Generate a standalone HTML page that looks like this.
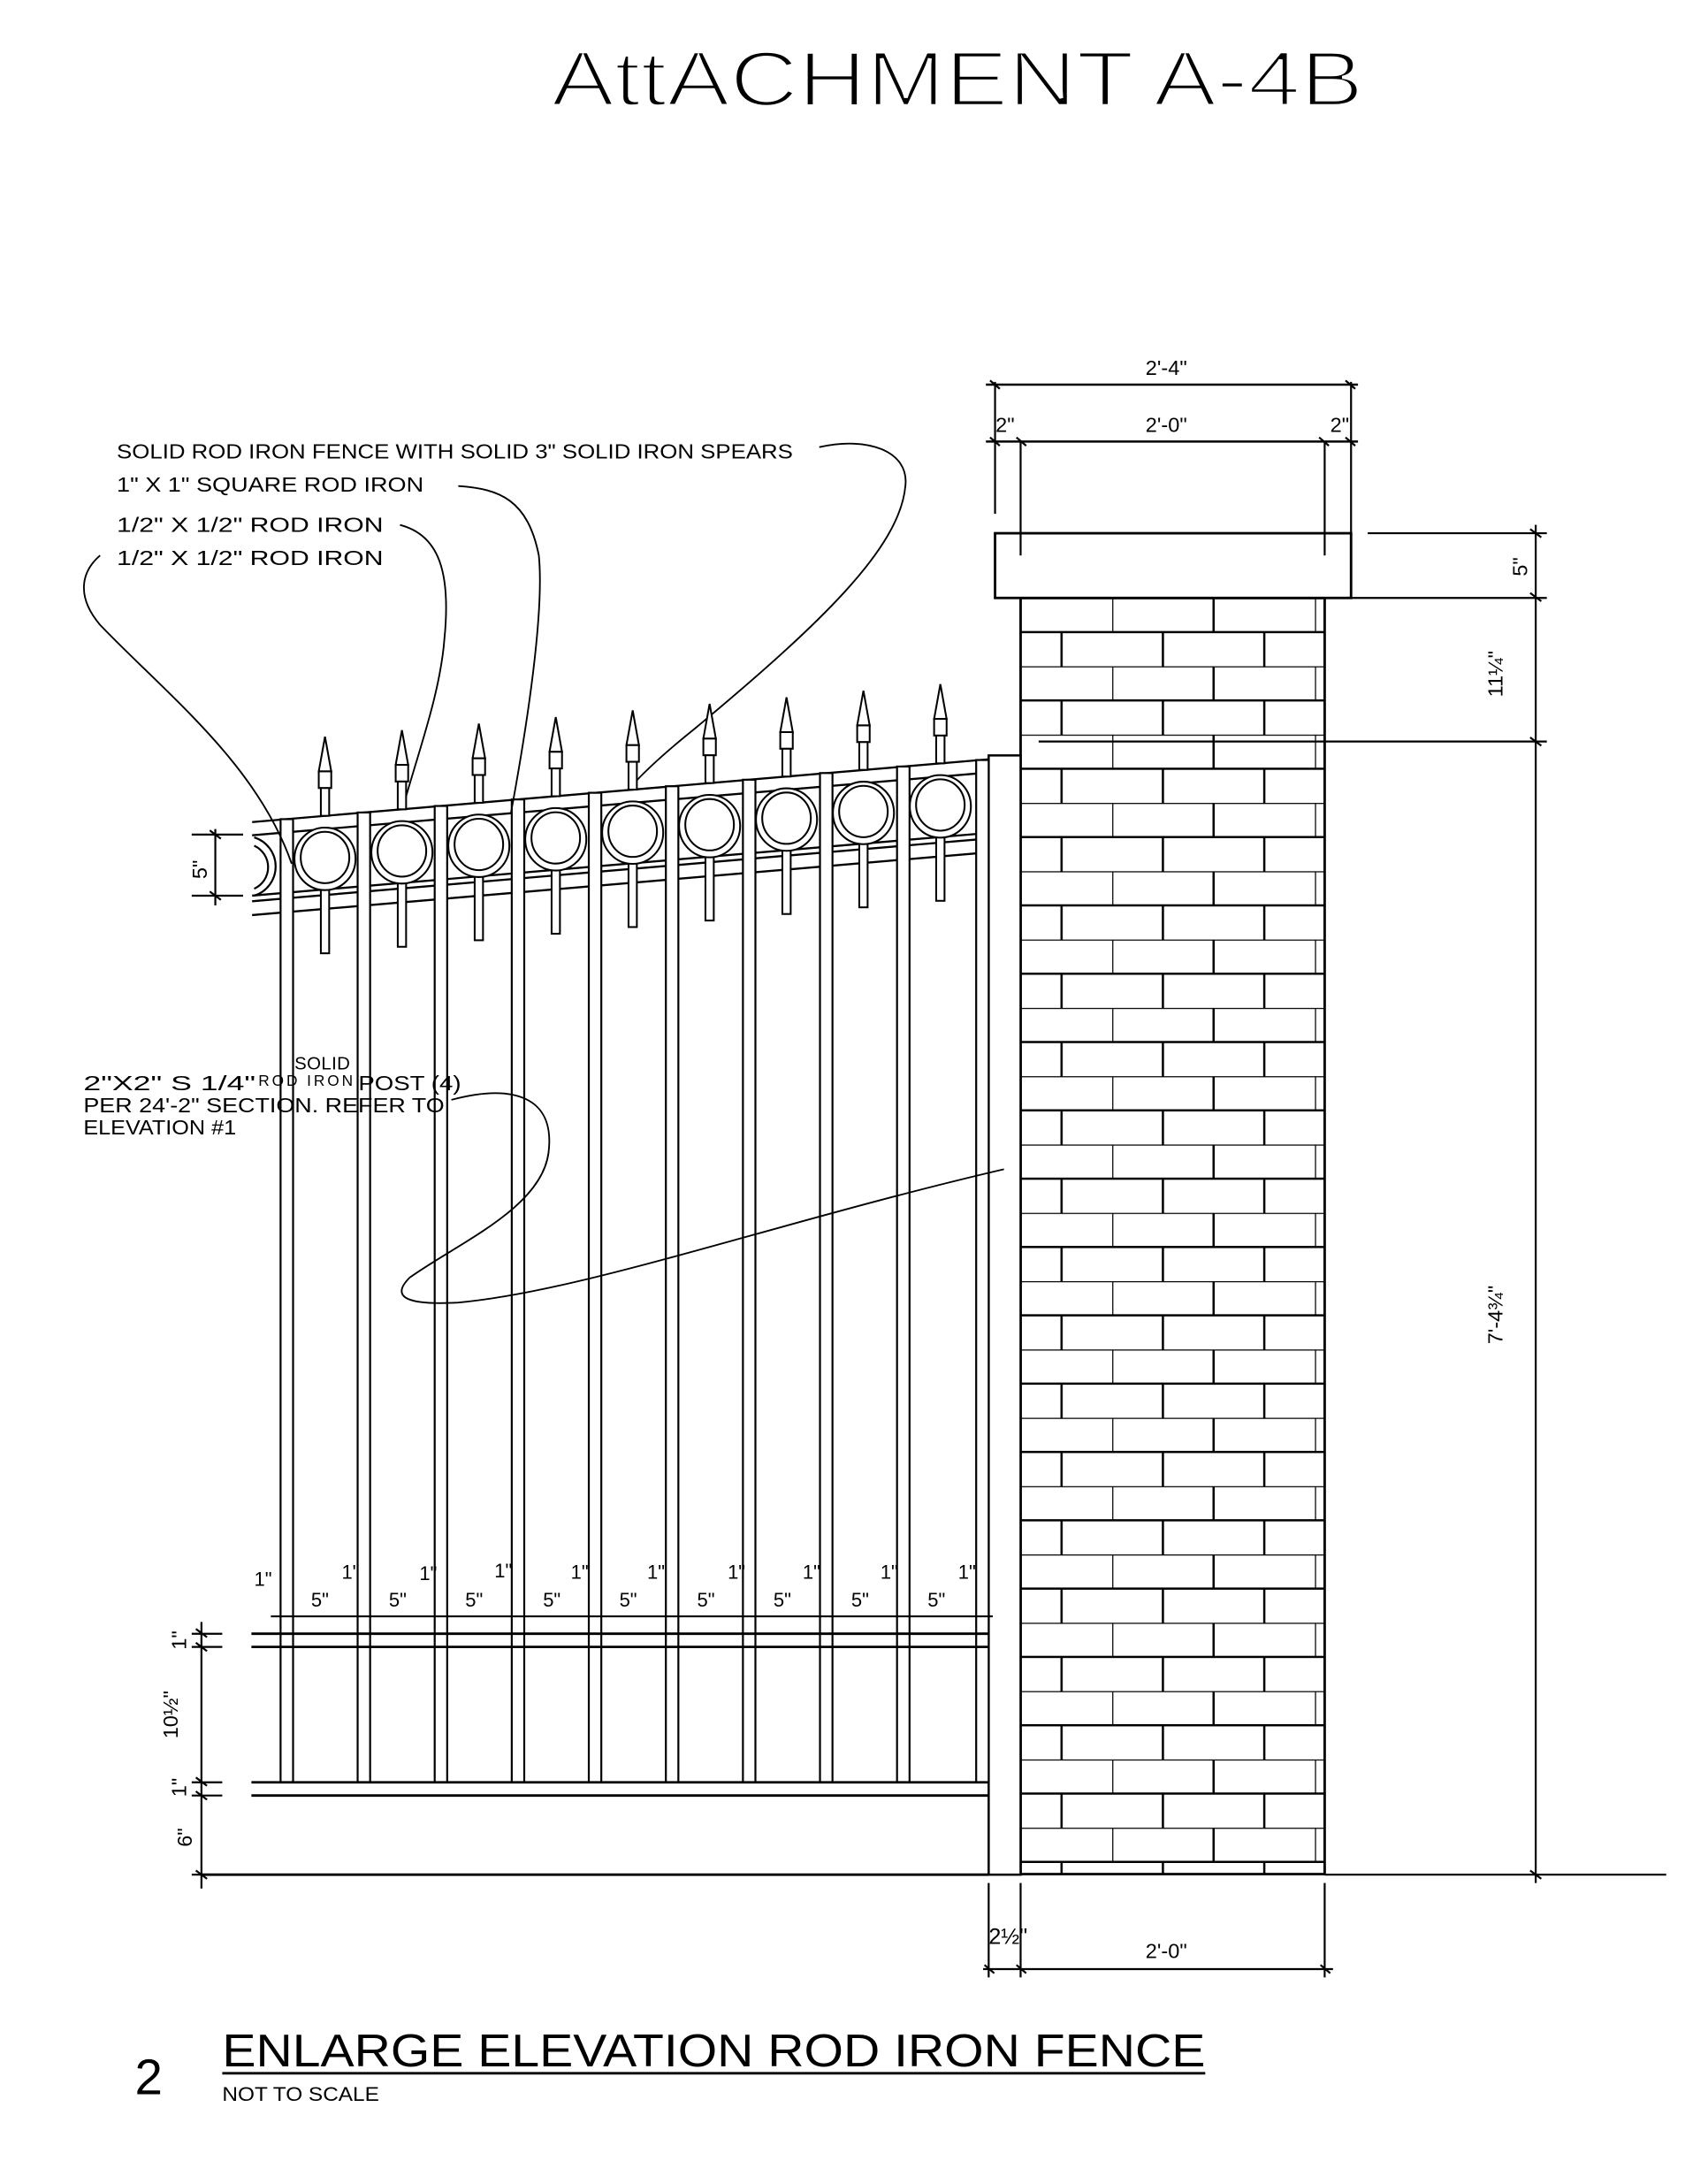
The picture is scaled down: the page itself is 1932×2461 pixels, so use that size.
<!DOCTYPE html>
<html><head><meta charset="utf-8"><style>html,body{margin:0;padding:0;background:#fff}svg{display:block}</style></head>
<body>
<svg width="1932" height="2461" viewBox="0 0 1230 1567" xmlns="http://www.w3.org/2000/svg" font-family="Liberation Sans, sans-serif">
<defs>
<pattern id="br" patternUnits="userSpaceOnUse" x="801" y="430.6" width="146" height="49.2">
<rect width="146" height="49.2" fill="#fff"/>
<path d="M0 0H146M0 24.6H146M0 0V24.6M73 0V24.6M36.5 24.6V49.2M109.5 24.6V49.2" stroke="#000" stroke-width="1.6"/>
</pattern>
<g id="u" stroke="#000" stroke-width="1.3" fill="#fff">
<polygon points="0,-57 4.5,-32 -4.5,-32"/>
<rect x="-4.5" y="-32" width="9" height="12"/>
<rect x="-3" y="-20" width="6" height="20"/>
<rect x="-3" y="50" width="6" height="49"/>
<ellipse cx="0" cy="31" rx="22" ry="22.5"/>
<ellipse cx="0" cy="30" rx="17.5" ry="18.5"/>
</g>
</defs>
<rect width="1230" height="1567" fill="#fff"/>
<text x="397" y="76" font-size="56" textLength="585" lengthAdjust="spacingAndGlyphs" fill="#000" stroke="#fff" stroke-width="2.2">AttACHMENT  A-4B</text>

<g stroke="#000" fill="none" stroke-width="1.4">
<rect x="735" y="430.6" width="219" height="919" fill="url(#br)" stroke-width="1.8"/>
<rect x="716.6" y="384" width="256.4" height="46.6" stroke-width="1.8" fill="#fff"/>
<path d="M735 318V400M954 318V400M716.6 275V370M973 275V384"/>
<path d="M710 277H978M710 318H978" stroke-width="1.6"/>
<path d="M713 274l7 6M969 274l7 6M713 315l7 6M732 315l7 6M950 315l7 6M969 315l7 6"/>
<path d="M985 384H1114M973 430.6H1114M748 534H1114M954 1350H1200M1106 378V1356"/>
<path d="M1102 381l8 6M1102 427l8 6M1102 531l8 6M1102 1347l8 6"/>
<rect x="712" y="544" width="23" height="806" fill="#fff" stroke-width="1.6"/>
<path d="M181.5 592L712 546.8M181.5 601.5L712 556.3M181.5 645L712 599.8M181.5 649L712 603.8M181.5 659L712 613.8" stroke-width="1.5"/>
<path d="M183 603A22 22 0 0 1 183 645M183 609A17 17 0 0 1 183 640"/>
<g fill="#fff" stroke-width="1.4">
<rect x="202" y="589.9" width="9" height="693.6"/>
<rect x="257.5" y="585.1" width="9" height="698.4"/>
<rect x="313" y="580.4" width="9" height="703.1"/>
<rect x="368.5" y="575.7" width="9" height="707.8"/>
<rect x="424" y="570.9" width="9" height="712.6"/>
<rect x="479.5" y="566.2" width="9" height="717.3"/>
<rect x="535" y="561.5" width="9" height="722"/>
<rect x="590.5" y="556.7" width="9" height="726.8"/>
<rect x="646" y="552" width="9" height="731.5"/>
<rect x="703" y="547.3" width="9" height="736.2"/>
</g>
<path d="M181 1176.5H712M181 1186H712M181 1283.5H712M181 1293H712M145 1350H712" stroke-width="1.8"/>
<path d="M195 1164H715" stroke-width="1.4"/>
<path d="M138 1176.5H160M138 1186H160M138 1283.5H160M138 1293H160M138 1350H160M145 1168V1360"/>
<path d="M141 1173l8 6M141 1183l8 6M141 1280l8 6M141 1290l8 6M141 1347l8 6"/>
<path d="M138 601H175M138 645H175M155 597V652M151 598l8 6M151 642l8 6"/>
<path d="M712 1356V1424M735 1356V1424M954 1356V1424M708 1418H960M709 1415l7 6M732 1415l7 6M951 1415l7 6"/>
<path d="M590 322C625 314 655 325 652 350C648 395 590 450 500 525C475 545 460 560 453 568" stroke-width="1.2"/>
<path d="M330 350C360 352 380 360 388 400C392 440 380 520 368 585" stroke-width="1.2"/>
<path d="M288 378C315 385 325 410 320 460C317 500 300 545 290 582" stroke-width="1.2"/>
<path d="M72 400C58 412 55 430 72 450C120 500 185 550 210 622" stroke-width="1.2"/>
<path d="M325 792C370 780 400 790 395 830C390 870 330 895 295 920C280 935 295 940 330 938C420 930 560 880 723 842" stroke-width="1.2"/>
</g>
<use href="#u" x="234" y="587.5"/>
<use href="#u" x="289.4" y="582.8"/>
<use href="#u" x="344.8" y="578.1"/>
<use href="#u" x="400.2" y="573.4"/>
<use href="#u" x="455.6" y="568.6"/>
<use href="#u" x="511" y="563.9"/>
<use href="#u" x="566.4" y="559.2"/>
<use href="#u" x="621.8" y="554.4"/>
<use href="#u" x="677.2" y="549.7"/>

<g font-size="15" fill="#000">
<text x="84" y="330" textLength="487" lengthAdjust="spacingAndGlyphs">SOLID ROD IRON FENCE WITH SOLID 3" SOLID IRON SPEARS</text>
<text x="84" y="354" textLength="221" lengthAdjust="spacingAndGlyphs">1" X 1" SQUARE ROD IRON</text>
<text x="84" y="383" textLength="192" lengthAdjust="spacingAndGlyphs">1/2" X 1/2" ROD IRON</text>
<text x="84" y="407" textLength="192" lengthAdjust="spacingAndGlyphs">1/2" X 1/2" ROD IRON</text>
<text x="60" y="785" textLength="124" lengthAdjust="spacingAndGlyphs">2"X2" S 1/4"</text>
<text x="258" y="785" textLength="74" lengthAdjust="spacingAndGlyphs">POST (4)</text>
<text x="60" y="801" textLength="260" lengthAdjust="spacingAndGlyphs">PER 24'-2" SECTION. REFER TO</text>
<text x="60" y="817" textLength="110" lengthAdjust="spacingAndGlyphs">ELEVATION #1</text>
<text x="212" y="770" font-size="13" textLength="40">SOLID</text>
<text x="186" y="782" font-size="11" textLength="68">ROD IRON</text>
<text x="825" y="270">2'-4"</text>
<text x="825" y="311">2'-0"</text>
<text x="717" y="311">2"</text>
<text x="958" y="311">2"</text>
<text x="825" y="1410">2'-0"</text>
<text x="712" y="1400" font-size="16">2½"</text>
<text transform="translate(1100,415) rotate(-90)">5"</text>
<text transform="translate(1082,502) rotate(-90)">11¼"</text>
<text transform="translate(1082,968) rotate(-90)">7'-4¾"</text>
<text transform="translate(149,633) rotate(-90)">5"</text>
<text transform="translate(134,1188) rotate(-90)">1"</text>
<text transform="translate(128,1252) rotate(-90)">10½"</text>
<text transform="translate(134,1294) rotate(-90)">1"</text>
<text transform="translate(138,1330) rotate(-90)">6"</text>
<g font-size="14">
<text x="224" y="1157">5"</text><text x="280" y="1157">5"</text><text x="335" y="1157">5"</text><text x="391" y="1157">5"</text><text x="446" y="1157">5"</text><text x="502" y="1157">5"</text><text x="557" y="1157">5"</text><text x="613" y="1157">5"</text><text x="668" y="1157">5"</text>
<text x="183" y="1142">1"</text><text x="246" y="1137">1"</text><text x="302" y="1138">1"</text><text x="356" y="1136">1"</text><text x="411" y="1137">1"</text><text x="466" y="1137">1"</text><text x="524" y="1137">1"</text><text x="578" y="1137">1"</text><text x="634" y="1137">1"</text><text x="690" y="1137">1"</text>
</g>
<text x="97" y="1508" font-size="36">2</text>
<text x="160" y="1488" font-size="33" textLength="708" lengthAdjust="spacingAndGlyphs">ENLARGE ELEVATION ROD IRON FENCE</text>
<text x="160" y="1513" font-size="14" textLength="113" lengthAdjust="spacingAndGlyphs">NOT TO SCALE</text>
</g>
<path d="M160 1493H868" stroke="#000" stroke-width="1.8"/>
</svg>
</body></html>
